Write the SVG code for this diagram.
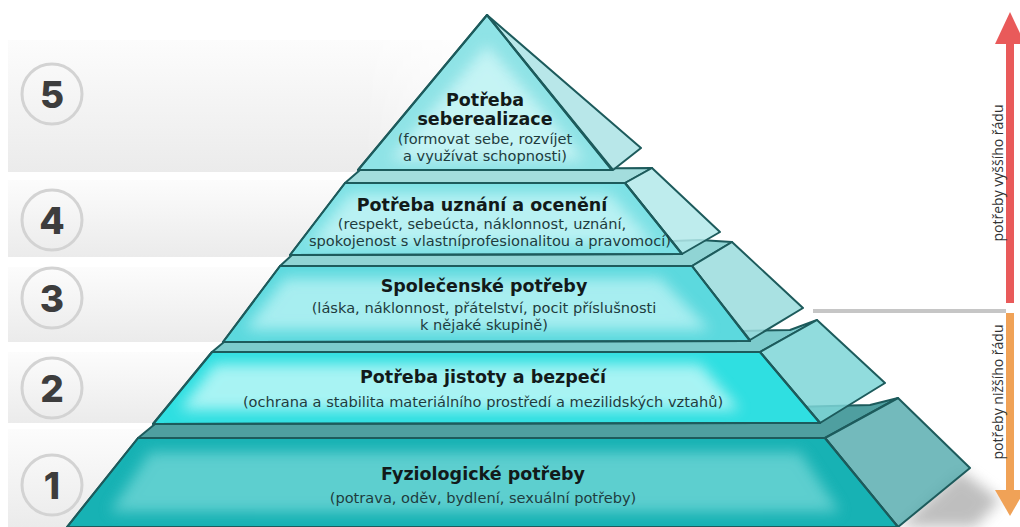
<svg xmlns="http://www.w3.org/2000/svg" width="1020" height="527" viewBox="0 0 1020 527">
<defs>
<linearGradient id="bandV" x1="0" y1="0" x2="0" y2="1">
<stop offset="0" stop-color="#fcfcfc"/><stop offset="1" stop-color="#ebebeb"/>
</linearGradient>
<linearGradient id="bandFade" x1="0" y1="0" x2="1" y2="0">
<stop offset="0" stop-color="#fff" stop-opacity="1"/><stop offset="0.7" stop-color="#fff" stop-opacity="1"/><stop offset="1" stop-color="#fff" stop-opacity="0"/>
</linearGradient>
<mask id="fadeMask"><rect x="0" y="0" width="520" height="527" fill="url(#bandFade)"/></mask>
<filter id="glow" x="-20%" y="-50%" width="140%" height="200%"><feGaussianBlur stdDeviation="7"/></filter>
<filter id="shadowBlur" x="-50%" y="-50%" width="200%" height="200%"><feGaussianBlur stdDeviation="7"/></filter>
<clipPath id="c5"><polygon points="487,15 612,170 358,170"/></clipPath>
<clipPath id="c4"><polygon points="345,183 625,183 682,254 290,255"/></clipPath>
<clipPath id="c3"><polygon points="280,266 692,266 750,341 223,342"/></clipPath>
<clipPath id="c2"><polygon points="212,352 760,352 820,423 153,424"/></clipPath>
<clipPath id="c1"><polygon points="138,438 825,438 898,527 67,527"/></clipPath>
</defs>
<style>
.band{fill:url(#bandV)}
.ring{fill:none;stroke:#d3d3d3;stroke-width:3}
.num{font-family:Inter,"DejaVu Sans",sans-serif;font-weight:800;font-size:37px;fill:#3d3d3d;text-anchor:middle}
.edge{stroke:#1d5b5c;stroke-width:2;stroke-linejoin:round}
.side{stroke:#1d5b5c;stroke-width:2;stroke-linejoin:round;fill-opacity:0.85}
.title{font-family:"DejaVu Sans",Verdana,sans-serif;font-weight:bold;font-size:17.5px;fill:#121a1a;text-anchor:middle}
.sub{font-family:"DejaVu Sans",Verdana,sans-serif;font-size:14.6px;fill:#1e3c3e;text-anchor:middle}
.vtext{font-family:"Open Sans","DejaVu Sans",sans-serif;font-size:14px;fill:#333;text-anchor:middle}
</style>
<rect width="1020" height="527" fill="#fff"/>
<g id="bands" mask="url(#fadeMask)">
<rect class="band" x="8" y="40" width="512" height="132"/>
<rect class="band" x="8" y="180" width="512" height="77"/>
<rect class="band" x="8" y="267" width="512" height="75"/>
<rect class="band" x="8" y="352" width="512" height="71"/>
<rect class="band" x="8" y="429" width="512" height="98"/>
</g>
<g id="levelNumbers">
<g id="num5"><circle class="ring" cx="52" cy="94" r="30"/><text class="num" x="52" y="108">5</text></g>
<g id="num4"><circle class="ring" cx="52" cy="220" r="30"/><text class="num" x="52" y="234">4</text></g>
<g id="num3"><circle class="ring" cx="52" cy="298" r="30"/><text class="num" x="52" y="312">3</text></g>
<g id="num2"><circle class="ring" cx="52" cy="388" r="30"/><text class="num" x="52" y="402">2</text></g>
<g id="num1"><circle class="ring" cx="52" cy="485" r="30"/><text class="num" x="52" y="499">1</text></g>
</g>
<polygon points="898,527 960,470 1000,500 975,527" fill="#8a8a8a" opacity="0.55" filter="url(#shadowBlur)"/>
<g id="level1">
<polygon class="edge" points="155,424 870,405 898,398 825,438 138,438" fill="#4f9fa0"/>
<polygon class="side" points="825,438 898,398 970,468 898,527" fill="#5aaeb0"/>
<polygon class="edge" points="138,438 825,438 898,527 67,527" fill="#17b2b4"/>
<g clip-path="url(#c1)"><polygon points="150,452 800,452 840,512 110,512" fill="#6fd6d6" filter="url(#glow)" opacity="0.8"/></g>
<polygon points="138,438 825,438 898,527 67,527" fill="none" class="edge"/>
<text class="title" x="483" y="480">Fyziologické potřeby</text>
<text class="sub" x="483" y="503">(potrava, oděv, bydlení, sexuální potřeby)</text>
</g>
<g id="level2">
<polygon class="edge" points="224,342 790,330 817,320 760,352 212,352" fill="#7ccbcc"/>
<polygon class="side" points="760,352 817,320 885,383 820,423" fill="#7ed6d7"/>
<polygon class="edge" points="212,352 760,352 820,423 153,424" fill="#2fdfe1"/>
<g clip-path="url(#c2)"><polygon points="215,364 700,364 740,410 180,410" fill="#b6f6f6" filter="url(#glow)" opacity="0.9"/></g>
<polygon points="212,352 760,352 820,423 153,424" fill="none" class="edge"/>
<text class="title" x="483" y="383">Potřeba jistoty a bezpečí</text>
<text class="sub" x="483" y="407">(ochrana a stabilita materiálního prostředí a mezilidských vztahů)</text>
</g>
<g id="level3">
<polygon class="edge" points="292,255 700,240 732,242 692,266 280,266" fill="#90d4d4"/>
<polygon class="side" points="692,266 732,242 803,308 750,340" fill="#9adcdd"/>
<polygon class="edge" points="280,266 692,266 750,341 223,342" fill="#5cd9de"/>
<g clip-path="url(#c3)"><polygon points="285,278 660,278 710,330 245,330" fill="#b0f0f2" filter="url(#glow)" opacity="0.9"/></g>
<polygon points="280,266 692,266 750,341 223,342" fill="none" class="edge"/>
<text class="title" x="484" y="292">Společenské potřeby</text>
<text class="sub" x="484" y="313">(láska, náklonnost, přátelství, pocit příslušnosti</text>
<text class="sub" x="484" y="330">k nějaké skupině)</text>
</g>
<g id="level4">
<polygon class="edge" points="360,170 652,168 625,183 345,183" fill="#a3dddd"/>
<polygon class="side" points="625,183 652,168 720,232 682,254" fill="#b3e9ea"/>
<polygon class="edge" points="345,183 625,183 682,254 290,255" fill="#7de1e5"/>
<g clip-path="url(#c4)"><polygon points="350,194 610,194 655,244 310,244" fill="#bff3f4" filter="url(#glow)" opacity="0.9"/></g>
<polygon points="345,183 625,183 682,254 290,255" fill="none" class="edge"/>
<text class="title" x="482" y="211">Potřeba uznání a ocenění</text>
<text class="sub" x="482" y="229">(respekt, sebeúcta, náklonnost, uznání,</text>
<text class="sub" x="490" y="246">spokojenost s vlastníprofesionalitou a pravomocí)</text>
</g>
<g id="level5">
<polygon class="side" points="487,15 641,148 613,170" fill="#ace3e5"/>
<polygon class="edge" points="487,15 612,170 358,170" fill="#8fe3e6"/>
<g clip-path="url(#c5)"><polygon points="487,45 585,160 390,160" fill="#cbf5f6" filter="url(#glow)" opacity="0.9"/></g>
<polygon points="487,15 612,170 358,170" fill="none" class="edge"/>
<text class="title" x="485" y="106">Potřeba</text>
<text class="title" x="485" y="125">seberealizace</text>
<text class="sub" x="485" y="144">(formovat sebe, rozvíjet</text>
<text class="sub" x="485" y="161">a využívat schopnosti)</text>
</g>
<g id="connectors">
<rect x="813" y="309" width="193" height="4" fill="#c6c6c6"/>
<rect x="1006" y="40" width="8" height="263" fill="#e95a5a"/>
<polygon points="1010,12 995,44 1025,44" fill="#e95a5a"/>
<rect x="1006" y="313" width="8" height="180" fill="#f0a257"/>
<polygon points="995,490 1025,490 1010,516" fill="#f0a257"/>
<text class="vtext" transform="translate(1003,173) rotate(-90)">potřeby vyššího řádu</text>
<text class="vtext" transform="translate(1003,392) rotate(-90)">potřeby nižšího řádu</text>
</g>
</svg>
